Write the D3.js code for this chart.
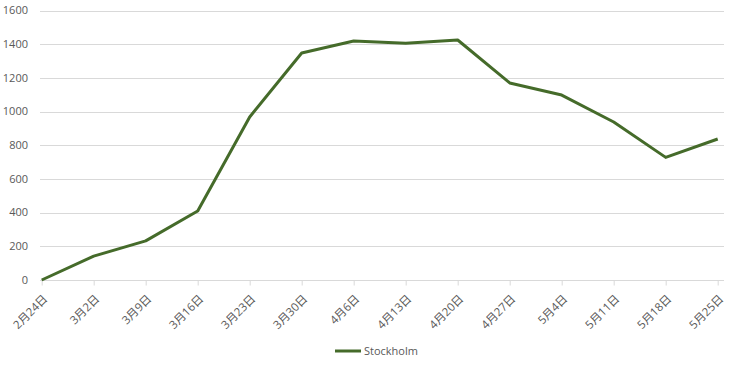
<!DOCTYPE html>
<html><head><meta charset="utf-8">
<script src="https://cdn.jsdelivr.net/npm/d3@7"></script>
<style>
body{margin:0;background:#fff;}
text{font-family:"Open Sans","Noto Sans CJK SC",sans-serif;fill:#595959;}
</style></head>
<body><svg id="c" width="749" height="369"></svg>
<script>
const categories = ["2月24日","3月2日","3月9日","3月16日","3月23日","3月30日","4月6日","4月13日","4月20日","4月27日","5月4日","5月11日","5月18日","5月25日"];
const stockholm = [0,142,232,410,968,1348,1419,1405,1425,1170,1098,938,728,837];
const yTicks = [0,200,400,600,800,1000,1200,1400,1600];
const seriesName = "Stockholm";

(function(){
const svg = d3.select("#c");
const pLeft = 41.7, pRight = 717.7, pTop = 10.5, pBottom = 280;
const x = d3.scalePoint().domain(categories).range([pLeft, pRight]);
const y = d3.scaleLinear().domain([0,1600]).range([pBottom, pTop]);
const color = "#456b2a";

svg.append("g").selectAll("line").data(yTicks.filter(d=>d>0)).join("line")
  .attr("x1", 40).attr("x2", 724)
  .attr("y1", d=>Math.round(y(d))+0.5).attr("y2", d=>Math.round(y(d))+0.5)
  .attr("stroke", "#d9d9d9").attr("stroke-width", 1);

svg.append("g").selectAll("text").data(yTicks).join("text")
  .attr("x", 28).attr("y", d=>y(d)).attr("dy", "0.35em")
  .attr("text-anchor", "end").attr("font-size", "11px").text(d=>d);

const xAxis = d3.axisBottom(x).tickSize(5).tickSizeOuter(0);
const gx = svg.append("g").attr("transform", `translate(0,${Math.round(pBottom)+0.5})`).call(xAxis);
gx.select(".domain").attr("stroke", "#d9d9d9").attr("d", "M40,0H724");
gx.selectAll(".tick line").attr("stroke", "#d9d9d9");
gx.selectAll(".tick text")
  .attr("font-size", "11.5px").attr("fill", "#595959")
  .attr("text-anchor", "end").attr("dy", null).attr("y", 0)
  .attr("transform", "translate(6,19) rotate(-45)");

const line = d3.line().x((d,i)=>x(categories[i])).y(d=>y(d));
svg.append("path").datum(stockholm).attr("d", line)
  .attr("fill", "none").attr("stroke", color).attr("stroke-width", 3)
  .attr("stroke-linejoin", "round");

const lg = svg.append("g");
lg.append("line").attr("x1", 335).attr("x2", 361).attr("y1", 351).attr("y2", 351)
  .attr("stroke", color).attr("stroke-width", 3);
lg.append("text").attr("x", 364).attr("y", 351).attr("dy", "0.35em")
  .attr("font-size", "11px").text(seriesName);
})();
</script></body></html>
